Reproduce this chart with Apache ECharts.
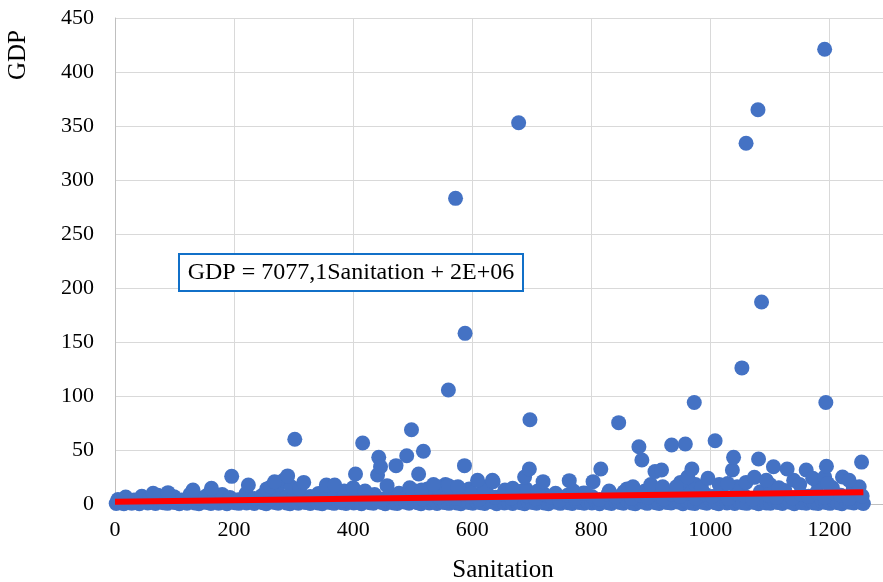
<!DOCTYPE html>
<html>
<head>
<meta charset="utf-8">
<script src="https://cdn.jsdelivr.net/npm/echarts@6/dist/echarts.min.js"></script>
<style>html,body{margin:0;padding:0;background:#fff}#c{width:883px;height:582px}</style>
</head>
<body>
<div id="c"></div>
<script>
// Tick labels
const xTicks = [0, 200, 400, 600, 800, 1000, 1200];
const yTicks = [0, 50, 100, 150, 200, 250, 300, 350, 400, 450];

// [Sanitation, GDP] — dense band of countries near zero
const lowBand = [
[2,0.5],[9,1.2],[15,0.3],[22,2.1],[28,0.8],[35,1.5],[41,0.2],[48,2.4],[55,0.9],[61,1.7],[68,0.4],[74,2.8],[81,1.1],[88,0.6],[94,2.2],[101,1.3],[108,0.2],[114,1.9],[121,0.7],[128,2.6],[134,1.0],[141,0.3],[148,2.0],[154,1.4],[161,0.5],[168,2.9],[174,0.8],[181,1.6],[188,0.3],[194,2.3],[201,1.2],[208,0.6],[214,2.7],[221,0.9],[228,1.8],[234,0.4],[241,2.5],[248,1.1],[254,0.2],[261,2.1],[268,1.4],[274,0.7],[281,2.8],[288,1.0],[294,0.3],[301,1.9],[308,0.8],[314,2.4],[321,1.3],[328,0.5],[334,2.6],[341,1.0],[348,0.2],[354,2.0],[361,1.5],[368,0.6],[374,2.9],[381,1.2],[388,0.4],[394,2.2],[401,0.9],[408,1.7],[414,0.3],[421,2.5],[428,1.1],[434,0.7],[441,2.3],[448,1.4],[454,0.2],[461,2.7],[468,1.0],[474,0.5],[481,2.1],[488,1.6],[494,0.8],[501,2.8],[508,1.2],[514,0.3],[521,2.4],[528,0.9],[534,1.9],[541,0.4],[548,2.6],[554,1.3],[561,0.6],[568,2.2],[574,1.0],[581,0.2],[588,2.9],[594,1.5],[601,0.7],[608,2.0],[614,1.1],[621,0.4],[628,2.5],[634,1.8],[641,0.3],[648,2.3],[654,0.9],[661,1.6],[668,0.5],[674,2.7],[681,1.2],[688,0.2],[694,2.1],[701,1.4],[708,0.8],[714,2.6],[721,1.0],[728,0.3],[734,2.4],[741,1.7],[748,0.6],[754,2.2],[761,1.1],[768,0.4],[774,2.8],[781,1.3],[788,0.7],[794,2.0],[801,0.9],[808,1.9],[814,0.2],[821,2.5],[828,1.2],[834,0.5],[841,2.3],[848,1.5],[854,0.8],[861,2.9],[868,1.0],[874,0.3],[881,2.1],[888,1.6],[894,0.6],[901,2.7],[908,1.1],[914,0.4],[921,2.4],[928,1.3],[934,0.9],[941,2.0],[948,1.7],[954,0.2],[961,2.6],[968,1.0],[974,0.5],[981,2.2],[988,1.4],[994,0.7],[1001,2.8],[1008,1.2],[1014,0.3],[1021,2.5],[1028,0.9],[1034,1.8],[1041,0.4],[1048,2.3],[1054,1.1],[1061,0.6],[1068,2.7],[1074,1.5],[1081,0.2],[1088,2.1],[1094,1.0],[1101,0.8],[1108,2.9],[1114,1.3],[1121,0.5],[1128,2.4],[1134,1.6],[1141,0.3],[1148,2.0],[1154,1.2],[1161,0.7],[1168,2.6],[1174,1.0],[1181,0.4],[1188,2.2],[1194,1.4],[1201,0.6],[1208,2.8],[1214,1.1],[1221,0.3],[1228,2.3],[1234,1.7],[1241,0.9],[1248,2.5],[1254,1.2],[1257,0.4]
];
const upperBand = [
[5,4.2],[18,6.5],[32,3.8],[45,7.1],[58,5.0],[72,8.2],[86,4.5],[99,6.8],[112,3.6],[126,9.0],[140,5.5],[153,7.4],[166,4.0],[180,8.8],[193,6.1],[207,3.9],[220,9.5],[234,5.2],[247,7.8],[261,4.6],[274,10.2],[288,6.3],[301,8.5],[315,4.1],[328,7.0],[342,9.8],[355,5.4],[369,8.0],[382,3.7],[396,6.9],[409,10.5],[423,5.8],[436,8.7],[450,4.3],[463,7.5],[477,9.9],[490,6.0],[504,11.0],[517,4.8],[531,8.3],[544,6.6],[558,10.8],[571,5.1],[585,9.2],[598,7.2],[612,4.4],[625,10.0],[639,6.2],[652,8.9],[666,5.6],[679,11.5],[693,7.7],[706,4.9],[720,9.4],[733,6.4],[747,3.8],[760,8.1],[774,5.3],[787,10.3],[801,7.0],[814,4.2],[828,9.0],[841,6.7],[855,11.2],[868,5.0],[882,8.4],[895,6.1],[909,10.6],[922,4.7],[936,8.8],[949,7.3],[963,11.8],[976,5.5],[990,9.6],[1003,6.9],[1017,12.0],[1030,5.2],[1044,10.1],[1057,7.6],[1071,4.5],[1084,11.4],[1098,8.0],[1111,6.0],[1125,12.5],[1138,5.7],[1152,9.3],[1165,7.1],[1179,11.0],[1192,6.3],[1206,10.4],[1219,8.2],[1233,5.0],[1246,11.7],[1255,7.4]
];
const clusterPoints = [
[255,14],[262,16],[275,18],[283,22],[296,16],[310,14],[385,12],[400,15],[420,12],[495,15],[505,12],[525,14],[545,13],[555,18],[565,15],[580,12],[595,14],[600,10],
[500,12],[515,13],[540,16],[560,17],[620,15],[655,13],[690,14],[710,12],[740,10],[770,12],[790,10],[830,12],[860,14],[890,12],[900,18],[920,16],[950,20],[975,18],[985,15],[1015,18],[1045,16],[1060,20],[1100,18],[1115,15],[1140,22],[1150,18],[1180,20],[1205,15],[1240,14],[1250,16]
];
const midPoints = [
[64,10],[89,10.5],[131,13],[162,14.5],[196,25.6],[224,17.6],[268,20.6],[290,26],[302,60],[317,20],[355,17.6],[369,17.6],[404,27.8],[416,56.5],[441,26.8],[443,43.2],[446,34.5],[457,17],[472,35.5],[490,44.7],[498,68.8],[510,27.8],[518,48.8],[535,18],[560,105.5],[576,16],[587,35.5],[588,158],[609,22],[634,22],[635,20.7],[668,14.5],[688,25],[696,32.4],[697,78],[719,20.7],[763,21.6],[803,20.7],[816,32.4],[846,75.3],[870,16],[880,53],[885,40.7],[907,30],[918,31.5],[935,54.6],[943,16],[958,55.5],[962,25],[969,32.4],[973,94],[996,23.8],[1008,58.6],[1029,19],[1037,31.5],[1039,43.2],[1053,126],[1074,24.7],[1081,41.7],[1086,187],[1094,22],[1106,34.5],[1129,32.4],[1161,31.5],[1172,23.8],[1192,25],[1194,94],[1195,35],[1197,19],[1222,25],[1233,22],[1254,38.8]
];
const outliers = [
[572,283],[678,353],[1060,334],[1080,365],[1192,421]
];
// Linear trendline endpoints (GDP in millions: 0.0070771*Sanitation + 2)
const trendX = [0, 1257];
const trendY = [2.0, 10.9];
const equationText = 'GDP = 7077,1Sanitation + 2E+06';

const allPoints = [].concat(lowBand, upperBand, clusterPoints, midPoints, outliers);
const font = 'Liberation Serif';

const chart = echarts.init(document.getElementById('c'), null, {renderer: 'canvas'});
chart.setOption({
  animation: false,
  backgroundColor: '#fff',
  grid: {left: 115, right: 0, top: 18, bottom: 78, containLabel: false},
  xAxis: {
    type: 'value', min: 0, max: 1290, interval: 200,
    axisLine: {show: true, lineStyle: {color: '#BFBFBF', width: 1}},
    axisTick: {show: false},
    axisLabel: {showMaxLabel: false, margin: 15, color: '#000', fontFamily: font, fontSize: 22,
      formatter: v => xTicks.includes(v) ? String(v) : ''},
    splitLine: {show: true, lineStyle: {color: '#D9D9D9', width: 1}}
  },
  yAxis: {
    type: 'value', min: 0, max: 450, interval: 50,
    axisLine: {show: true, lineStyle: {color: '#BFBFBF', width: 1}},
    axisTick: {show: false},
    axisLabel: {margin: 21, color: '#000', fontFamily: font, fontSize: 22,
      formatter: v => yTicks.includes(v) ? String(v) : ''},
    splitLine: {show: true, lineStyle: {color: '#D9D9D9', width: 1}}
  },
  series: [
    {
      type: 'scatter',
      data: allPoints,
      symbol: 'circle',
      symbolSize: 15,
      itemStyle: {color: '#4472C4', opacity: 1},
      z: 2
    },
    {
      type: 'line',
      data: trendX.map((x, i) => [x, trendY[i]]),
      symbol: 'none',
      lineStyle: {color: '#FF0000', width: 6},
      z: 3
    }
  ],
  graphic: [
    {
      type: 'text', x: 18, y: 55, rotation: Math.PI / 2,
      style: {text: 'GDP', fontFamily: font, fontSize: 25, fill: '#000', textAlign: 'center', textVerticalAlign: 'middle'}
    },
    {
      type: 'text', x: 503, y: 570,
      style: {text: 'Sanitation', fontFamily: font, fontSize: 25, fill: '#000', textAlign: 'center', textVerticalAlign: 'middle'}
    },
    {
      type: 'rect', shape: {x: 179, y: 254, width: 344, height: 37},
      style: {fill: '#fff', stroke: '#1170C8', lineWidth: 2}, z: 10
    },
    {
      type: 'text', x: 351, y: 273,
      style: {text: equationText, fontFamily: font, fontSize: 24, fill: '#000', textAlign: 'center', textVerticalAlign: 'middle'}, z: 11
    }
  ]
});
</script>
</body>
</html>
